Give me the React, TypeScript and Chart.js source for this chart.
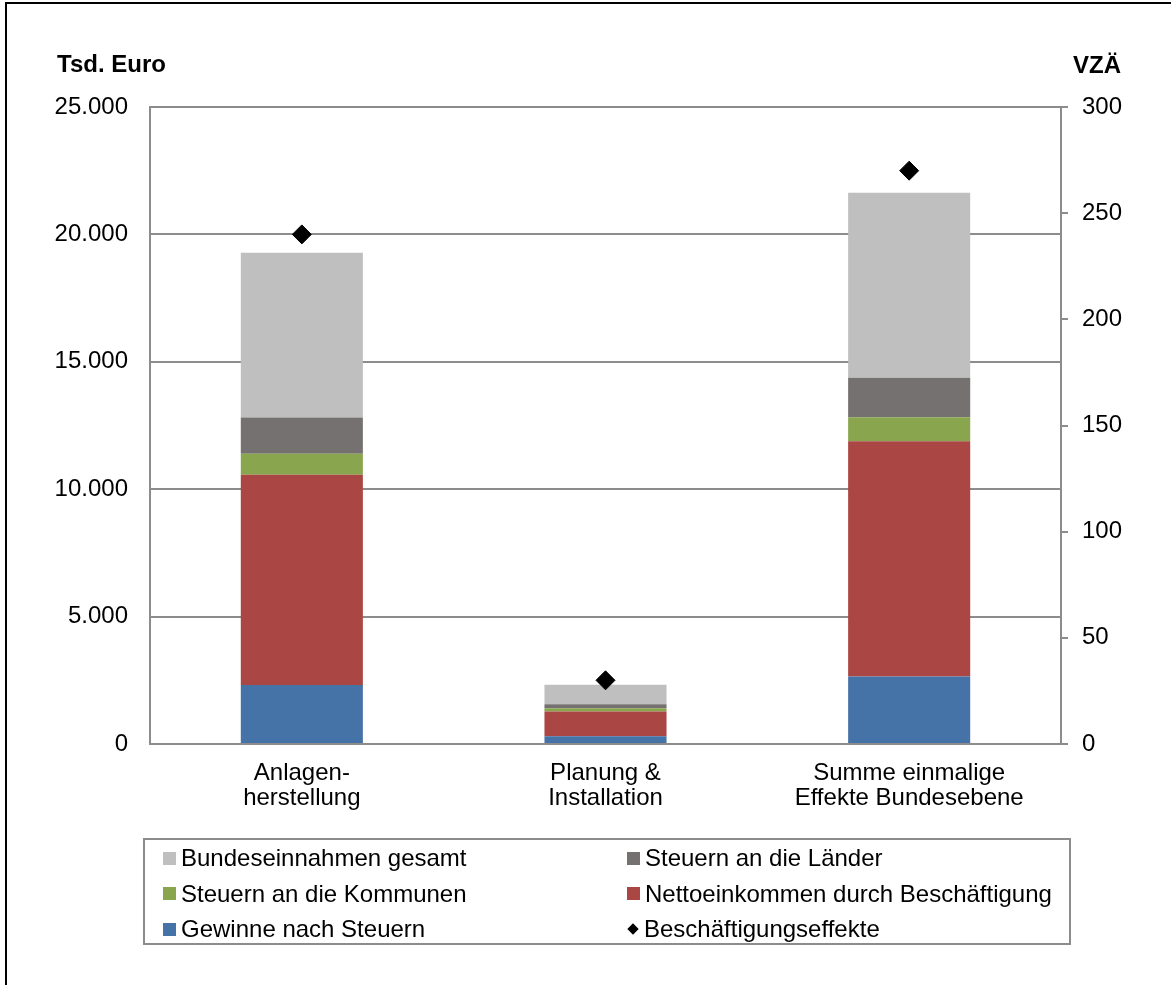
import React, { useEffect, useRef } from "react";
import { Chart, registerables } from "chart.js";

Chart.register(...registerables);

const categories: string[][] = [
  ["Anlagen-", "herstellung"],
  ["Planung &", "Installation"],
  ["Summe einmalige", "Effekte Bundesebene"],
];

const gewinne = [2320, 300, 2650];
const netto = [8250, 980, 9230];
const kommunen = [820, 120, 940];
const laender = [1420, 160, 1550];
const bund = [6470, 770, 7260];
const vza = [240, 30, 270];

const leftTicks = [0, 5000, 10000, 15000, 20000, 25000];
const rightTicks = [0, 50, 100, 150, 200, 250, 300];

const leftTitle = "Tsd. Euro";
const rightTitle = "VZÄ";

const FONT = '"Liberation Sans", Arial, sans-serif';
const GRID = "#8c8c8c";
const FS = 24;

const barSeries = [
  { label: "Gewinne nach Steuern", data: gewinne, color: "#4572A7" },
  { label: "Nettoeinkommen durch Beschäftigung", data: netto, color: "#AA4643" },
  { label: "Steuern an die Kommunen", data: kommunen, color: "#89A54E" },
  { label: "Steuern an die Länder", data: laender, color: "#767171" },
  { label: "Bundeseinnahmen gesamt", data: bund, color: "#BFBFBF" },
];
const lineSeries = { label: "Beschäftigungseffekte", data: vza, color: "#000000" };

const legendOrder: { label: string; color: string; kind: "box" | "diamond" }[] = [
  { label: barSeries[4].label, color: barSeries[4].color, kind: "box" },
  { label: barSeries[3].label, color: barSeries[3].color, kind: "box" },
  { label: barSeries[2].label, color: barSeries[2].color, kind: "box" },
  { label: barSeries[1].label, color: barSeries[1].color, kind: "box" },
  { label: barSeries[0].label, color: barSeries[0].color, kind: "box" },
  { label: lineSeries.label, color: lineSeries.color, kind: "diamond" },
];

const fmt = (v: number) => String(Math.round(v)).replace(/\B(?=(\d{3})+(?!\d))/g, ".");

const titlePlugin = {
  id: "axisTitles",
  afterDraw(chart: any) {
    const ctx = chart.ctx;
    ctx.save();
    ctx.font = `bold 24px ${FONT}`;
    ctx.fillStyle = "#000";
    ctx.textAlign = "left";
    ctx.textBaseline = "alphabetic";
    ctx.fillText(leftTitle, 57, 72);
    ctx.fillText(rightTitle, 1073, 73);
    ctx.restore();
  },
};

export default function App() {
  const ref = useRef<HTMLCanvasElement>(null);

  useEffect(() => {
    if (!ref.current) return;
    const chart = new Chart(ref.current, {
      type: "bar",
      data: {
        labels: categories as any,
        datasets: [
          {
            type: "line",
            label: lineSeries.label,
            data: lineSeries.data,
            yAxisID: "y1",
            xAxisID: "x",
            showLine: false,
            pointStyle: "rectRot",
            pointRadius: 9.5,
            pointBorderWidth: 1,
            pointBackgroundColor: lineSeries.color,
            pointBorderColor: lineSeries.color,
            order: 0,
          } as any,
          ...barSeries.map((s) => ({
            type: "bar" as const,
            label: s.label,
            data: s.data,
            backgroundColor: s.color,
            borderWidth: 0,
            yAxisID: "y",
            xAxisID: "x",
            stack: "s",
            barPercentage: 0.402,
            categoryPercentage: 1,
            order: 1,
          })),
        ],
      },
      options: {
        responsive: false,
        animation: false,
        layout: { padding: { top: 107, left: 0, right: 0, bottom: 0 } },
        plugins: {
          legend: { display: false },
          tooltip: { enabled: false },
          title: { display: false },
        },
        scales: {
          x: {
            type: "category",
            stacked: true,
            offset: true,
            grid: { display: false, drawTicks: false },
            border: { display: true, color: GRID, width: 2 },
            ticks: {
              color: "#000",
              font: { family: FONT, size: FS, lineHeight: 1.05 },
              padding: 17,
              maxRotation: 0,
              autoSkip: false,
            },
            afterFit: (s: any) => {
              s.height = 241;
            },
          },
          y: {
            position: "left",
            stacked: true,
            min: leftTicks[0],
            max: leftTicks[leftTicks.length - 1],
            afterBuildTicks: (s: any) => {
              s.ticks = leftTicks.map((v) => ({ value: v }));
            },
            ticks: {
              color: "#000",
              font: { family: FONT, size: FS },
              padding: 22,
              callback: (v: any) => fmt(Number(v)),
            },
            grid: { color: GRID, lineWidth: 2, drawTicks: false },
            border: { display: true, color: GRID, width: 2 },
            afterFit: (s: any) => {
              s.width = 150;
            },
          },
          y1: {
            position: "right",
            min: rightTicks[0],
            max: rightTicks[rightTicks.length - 1],
            afterBuildTicks: (s: any) => {
              s.ticks = rightTicks.map((v) => ({ value: v }));
            },
            ticks: {
              color: "#000",
              font: { family: FONT, size: FS },
              padding: 14,
              callback: (v: any) => String(v),
            },
            grid: {
              drawOnChartArea: false,
              drawTicks: true,
              tickLength: 7,
              color: GRID,
              lineWidth: 2,
            },
            border: { display: true, color: GRID, width: 2 },
            afterFit: (s: any) => {
              s.width = 110;
            },
          },
        },
      } as any,
      plugins: [titlePlugin],
    });
    return () => chart.destroy();
  }, []);

  const rowCenters = [858, 893.5, 929];
  const colSquare = [163, 627];

  return (
    <div style={{ position: "absolute", left: 0, top: 0, width: 1171, height: 985, background: "#fff", overflow: "hidden" }}>
      <div
        style={{
          position: "absolute",
          left: 5,
          top: 2,
          width: 1200,
          height: 1000,
          borderLeft: "2px solid #000",
          borderTop: "2px solid #000",
        }}
      />
      <canvas ref={ref} width={1171} height={985} style={{ position: "absolute", left: 0, top: 0, width: 1171, height: 985 }} />
      <div
        style={{
          position: "absolute",
          left: 143,
          top: 838,
          width: 1071 - 143 - 4,
          height: 945 - 838 - 4,
          border: `2px solid ${GRID}`,
          background: "transparent",
        }}
      />
      {legendOrder.map((item, i) => {
        const col = i % 2;
        const row = Math.floor(i / 2);
        const cy = rowCenters[row];
        return (
          <div
            key={item.label}
            style={{
              position: "absolute",
              left: colSquare[col],
              top: cy - 14,
              height: 28,
              display: "flex",
              alignItems: "center",
              fontFamily: FONT,
              fontSize: FS,
              color: "#000",
              whiteSpace: "nowrap",
            }}
          >
            {item.kind === "box" ? (
              <span style={{ display: "inline-block", width: 13, height: 13, background: item.color, marginRight: 5 }} />
            ) : (
              <span
                style={{
                  display: "inline-block",
                  width: 8,
                  height: 8,
                  background: item.color,
                  transform: "rotate(45deg)",
                  marginLeft: 2,
                  marginRight: 7,
                }}
              />
            )}
            <span>{item.label}</span>
          </div>
        );
      })}
    </div>
  );
}
